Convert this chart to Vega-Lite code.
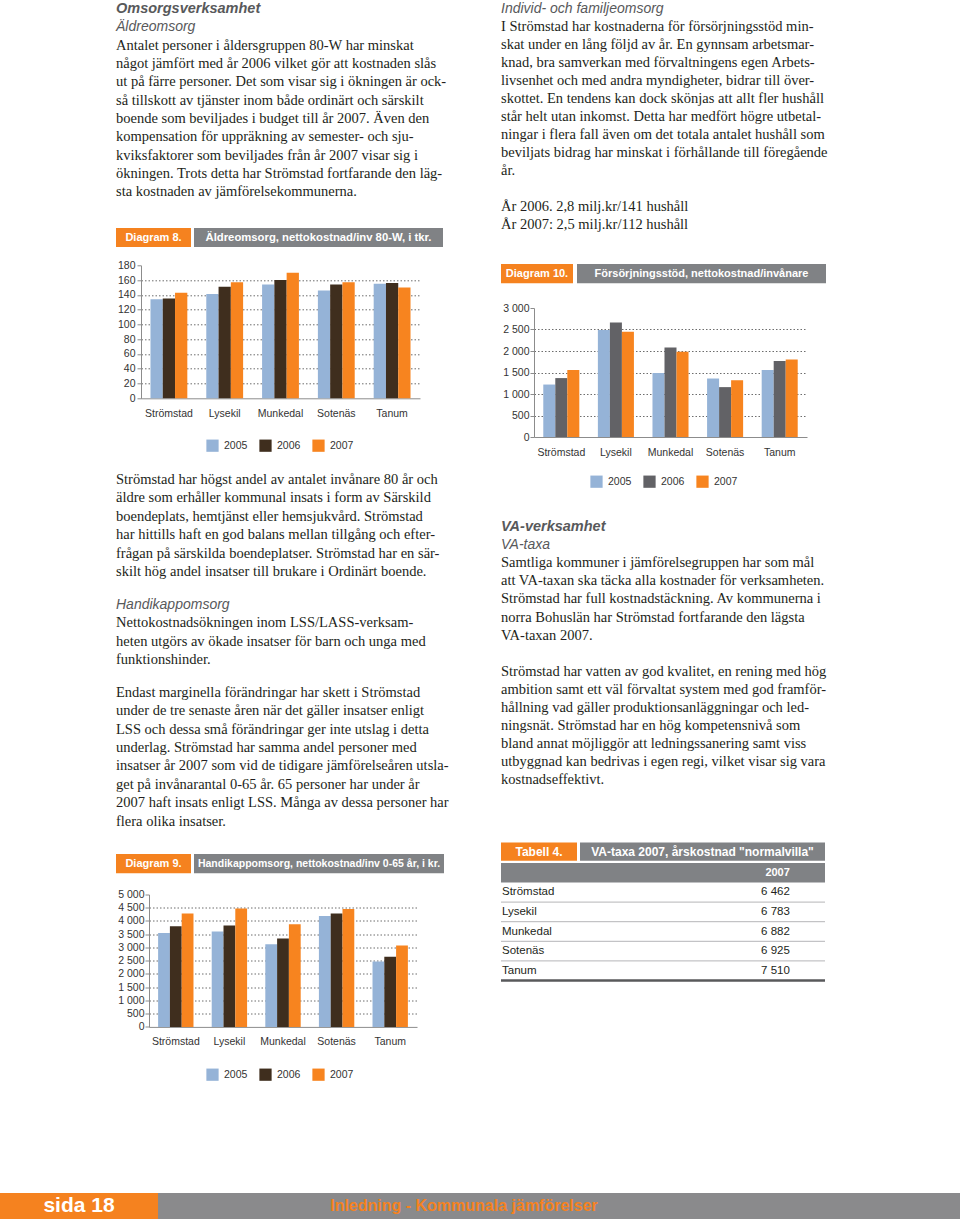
{
  "$schema": "https://vega.github.io/schema/vega-lite/v6.json",
  "background": "white",
  "padding": 0,
  "config": {
    "view": {"stroke": null},
    "locale": {"number": {"decimal": ",", "thousands": "\u00a0", "grouping": [3], "currency": ["", " kr"]}},
    "axis": {"labelFont": "Liberation Sans", "labelFontSize": 10.5, "labelColor": "#333333", "domainColor": "#8c8c8c", "tickColor": "#8c8c8c", "title": null},
    "axisX": {"labelAngle": 0, "ticks": false, "labelPadding": 10},
    "axisY": {"tickSize": 4, "labelPadding": 2, "grid": true, "gridDash": [1.5, 2], "gridColor": "#6d6d6d"},
    "legend": {"orient": "bottom", "direction": "horizontal", "title": null, "symbolType": "square", "symbolSize": 150, "symbolStrokeWidth": 0, "labelFont": "Liberation Sans", "labelFontSize": 10.5, "labelColor": "#333333", "columnPadding": 11, "labelOffset": 5, "offset": 20, "layout": {"bottom": {"anchor": "middle"}}}
  },
  "spacing": 112,
  "vconcat": [
    {
      "spacing": 40,
      "resolve": {"scale": {"x": "independent", "y": "independent", "color": "independent", "xOffset": "independent"}},
      "hconcat": [
        {"width": 76, "height": 10, "data": {"values": []}, "mark": "text", "encoding": {}},
        {
          "spacing": 0,
          "resolve": {"scale": {"x": "independent", "y": "independent", "color": "independent", "xOffset": "independent"}},
          "vconcat": [
            {
              "width": 343, "height": 227.7,
              "data": {"values": [
                {"n": 1, "k": "h1", "t": "Omsorgsverksamhet"},
                {"n": 2, "k": "h2", "t": "Äldreomsorg"},
                {"n": 3, "k": "b", "t": "Antalet personer i åldersgruppen 80-W har minskat"},
                {"n": 4, "k": "b", "t": "något jämfört med år 2006 vilket gör att kostnaden slås"},
                {"n": 5, "k": "b", "t": "ut på färre personer. Det som visar sig i ökningen är ock-"},
                {"n": 6, "k": "b", "t": "så tillskott av tjänster inom både ordinärt och särskilt"},
                {"n": 7, "k": "b", "t": "boende som beviljades i budget till år 2007. Även den"},
                {"n": 8, "k": "b", "t": "kompensation för uppräkning av semester- och sju-"},
                {"n": 9, "k": "b", "t": "kviksfaktorer som beviljades från år 2007 visar sig i"},
                {"n": 10, "k": "b", "t": "ökningen. Trots detta har Strömstad fortfarande den läg-"},
                {"n": 11, "k": "b", "t": "sta kostnaden av jämförelsekommunerna."}
              ]},
              "encoding": {
                "y": {"field": "n", "type": "ordinal", "axis": null, "scale": {"type": "band", "paddingInner": 0, "paddingOuter": 0.7213, "align": 0}},
                "x": {"datum": 0, "type": "quantitative", "axis": null, "scale": {"domain": [0, 1]}},
                "text": {"field": "t", "type": "nominal"}
              },
              "layer": [
                {"transform": [{"filter": "datum.k == 'h1'"}], "mark": {"type": "text", "align": "left", "font": "Liberation Sans", "fontSize": 14.5, "fontWeight": "bold", "fontStyle": "italic", "color": "#58595b"}},
                {"transform": [{"filter": "datum.k == 'h2'"}], "mark": {"type": "text", "align": "left", "font": "Liberation Sans", "fontSize": 14, "fontStyle": "italic", "color": "#58595b"}},
                {"transform": [{"filter": "datum.k == 'b'"}], "mark": {"type": "text", "align": "left", "font": "Liberation Serif", "fontSize": 14.5, "color": "#231f20"}}
              ]
            },
            {
              "spacing": 13.3,
              "vconcat": [
                {
                  "spacing": 3,
                  "hconcat": [
                    {"width": 75, "height": 19, "view": {"fill": "#f5821f", "stroke": null}, "data": {"values": [{"t": "Diagram 8."}]}, "mark": {"type": "text", "color": "#ffffff", "font": "Liberation Sans", "fontWeight": "bold", "fontSize": 11}, "encoding": {"text": {"field": "t", "type": "nominal"}}},
                    {"width": 249, "height": 19, "view": {"fill": "#808285", "stroke": null}, "data": {"values": [{"t": "Äldreomsorg, nettokostnad/inv  80-W, i tkr."}]}, "mark": {"type": "text", "color": "#ffffff", "font": "Liberation Sans", "fontWeight": "bold", "fontSize": 11.3}, "encoding": {"text": {"field": "t", "type": "nominal"}}}
                  ]
                },
                {
                  "spacing": 0,
                  "hconcat": [
                    {"width": 1, "height": 10, "data": {"values": []}, "mark": "text", "encoding": {}},
                    {
                      "width": 279, "height": 133,
                      "data": {"values": [
                        {"kommun": "Strömstad", "year": "2005", "value": 134}, {"kommun": "Strömstad", "year": "2006", "value": 135}, {"kommun": "Strömstad", "year": "2007", "value": 143},
                        {"kommun": "Lysekil", "year": "2005", "value": 141}, {"kommun": "Lysekil", "year": "2006", "value": 151}, {"kommun": "Lysekil", "year": "2007", "value": 157},
                        {"kommun": "Munkedal", "year": "2005", "value": 154}, {"kommun": "Munkedal", "year": "2006", "value": 160}, {"kommun": "Munkedal", "year": "2007", "value": 170},
                        {"kommun": "Sotenäs", "year": "2005", "value": 146}, {"kommun": "Sotenäs", "year": "2006", "value": 154}, {"kommun": "Sotenäs", "year": "2007", "value": 157},
                        {"kommun": "Tanum", "year": "2005", "value": 155}, {"kommun": "Tanum", "year": "2006", "value": 156}, {"kommun": "Tanum", "year": "2007", "value": 150}
                      ]},
                      "mark": {"type": "bar"},
                      "encoding": {
                        "x": {"field": "kommun", "type": "nominal", "sort": null, "scale": {"paddingInner": 0.34, "paddingOuter": 0.17}},
                        "xOffset": {"field": "year", "type": "nominal"},
                        "y": {"field": "value", "type": "quantitative", "scale": {"domain": [0, 180], "nice": false}, "axis": {"values": [0, 20, 40, 60, 80, 100, 120, 140, 160, 180], "gridOpacity": {"condition": {"test": "datum.value == 0 || datum.value == 180", "value": 0}, "value": 1}}},
                        "color": {"field": "year", "type": "nominal", "scale": {"domain": ["2005", "2006", "2007"], "range": ["#95b3d7", "#3f2e1e", "#f7841f"]}}
                      }
                    }
                  ]
                }
              ]
            },
            {
              "spacing": 13.8,
              "vconcat": [
                {
                  "width": 343, "height": 129.2,
                  "data": {"values": [
                    {"n": 1, "k": "b", "t": "Strömstad har högst andel av antalet invånare 80 år och"},
                    {"n": 2, "k": "b", "t": "äldre som erhåller kommunal insats i form av Särskild"},
                    {"n": 3, "k": "b", "t": "boendeplats, hemtjänst eller hemsjukvård. Strömstad"},
                    {"n": 4, "k": "b", "t": "har hittills haft en god balans mellan tillgång och efter-"},
                    {"n": 5, "k": "b", "t": "frågan på särskilda boendeplatser. Strömstad har en sär-"},
                    {"n": 6, "k": "b", "t": "skilt hög andel insatser till brukare i Ordinärt boende."}
                  ]},
                  "encoding": {
                    "y": {"field": "n", "type": "ordinal", "axis": null, "scale": {"type": "band", "paddingInner": 0, "paddingOuter": 0.5109, "align": 1}},
                    "x": {"datum": 0, "type": "quantitative", "axis": null, "scale": {"domain": [0, 1]}},
                    "text": {"field": "t", "type": "nominal"}
                  },
                  "mark": {"type": "text", "align": "left", "font": "Liberation Serif", "fontSize": 14.5, "color": "#231f20"}
                },
                {
                  "width": 343, "height": 73.6,
                  "data": {"values": [
                    {"n": 1, "k": "h2", "t": "Handikappomsorg"},
                    {"n": 2, "k": "b", "t": "Nettokostnadsökningen inom LSS/LASS-verksam-"},
                    {"n": 3, "k": "b", "t": "heten utgörs av ökade insatser för barn och unga med"},
                    {"n": 4, "k": "b", "t": "funktionshinder."}
                  ]},
                  "encoding": {
                    "y": {"field": "n", "type": "ordinal", "axis": null, "scale": {"type": "band", "paddingInner": 0, "paddingOuter": 0}},
                    "x": {"datum": 0, "type": "quantitative", "axis": null, "scale": {"domain": [0, 1]}},
                    "text": {"field": "t", "type": "nominal"}
                  },
                  "layer": [
                    {"transform": [{"filter": "datum.k == 'h2'"}], "mark": {"type": "text", "align": "left", "font": "Liberation Sans", "fontSize": 14, "fontStyle": "italic", "color": "#58595b"}},
                    {"transform": [{"filter": "datum.k == 'b'"}], "mark": {"type": "text", "align": "left", "font": "Liberation Serif", "fontSize": 14.5, "color": "#231f20"}}
                  ]
                },
                {
                  "width": 343, "height": 169.5,
                  "data": {"values": [
                    {"n": 1, "k": "b", "t": "Endast marginella förändringar har skett i Strömstad"},
                    {"n": 2, "k": "b", "t": "under de tre senaste åren när det gäller insatser enligt"},
                    {"n": 3, "k": "b", "t": "LSS och dessa små förändringar ger inte utslag i detta"},
                    {"n": 4, "k": "b", "t": "underlag. Strömstad har samma andel personer med"},
                    {"n": 5, "k": "b", "t": "insatser år 2007 som vid de tidigare jämförelseåren utsla-"},
                    {"n": 6, "k": "b", "t": "get på invånarantal 0-65 år. 65 personer har under år"},
                    {"n": 7, "k": "b", "t": "2007 haft insats enligt LSS. Många av dessa personer har"},
                    {"n": 8, "k": "b", "t": "flera olika insatser."}
                  ]},
                  "encoding": {
                    "y": {"field": "n", "type": "ordinal", "axis": null, "scale": {"type": "band", "paddingInner": 0, "paddingOuter": 0.606, "align": 0}},
                    "x": {"datum": 0, "type": "quantitative", "axis": null, "scale": {"domain": [0, 1]}},
                    "text": {"field": "t", "type": "nominal"}
                  },
                  "mark": {"type": "text", "align": "left", "font": "Liberation Serif", "fontSize": 14.5, "color": "#231f20"}
                }
              ]
            },
            {
              "spacing": 15.5,
              "vconcat": [
                {
                  "spacing": 3,
                  "hconcat": [
                    {"width": 75, "height": 19.3, "view": {"fill": "#f5821f", "stroke": null}, "data": {"values": [{"t": "Diagram 9."}]}, "mark": {"type": "text", "color": "#ffffff", "font": "Liberation Sans", "fontWeight": "bold", "fontSize": 11}, "encoding": {"text": {"field": "t", "type": "nominal"}}},
                    {"width": 250, "height": 19.3, "view": {"fill": "#808285", "stroke": null}, "data": {"values": [{"t": "Handikappomsorg, nettokostnad/inv 0-65 år, i kr."}]}, "mark": {"type": "text", "color": "#ffffff", "font": "Liberation Sans", "fontWeight": "bold", "fontSize": 10.5}, "encoding": {"text": {"field": "t", "type": "nominal"}}}
                  ]
                },
                {
                  "spacing": 0,
                  "hconcat": [
                    {"width": 1, "height": 10, "data": {"values": []}, "mark": "text", "encoding": {}},
                    {
                      "width": 268, "height": 132.4,
                      "data": {"values": [
                        {"kommun": "Strömstad", "year": "2005", "value": 3550}, {"kommun": "Strömstad", "year": "2006", "value": 3800}, {"kommun": "Strömstad", "year": "2007", "value": 4280},
                        {"kommun": "Lysekil", "year": "2005", "value": 3600}, {"kommun": "Lysekil", "year": "2006", "value": 3830}, {"kommun": "Lysekil", "year": "2007", "value": 4470},
                        {"kommun": "Munkedal", "year": "2005", "value": 3120}, {"kommun": "Munkedal", "year": "2006", "value": 3340}, {"kommun": "Munkedal", "year": "2007", "value": 3880},
                        {"kommun": "Sotenäs", "year": "2005", "value": 4190}, {"kommun": "Sotenäs", "year": "2006", "value": 4280}, {"kommun": "Sotenäs", "year": "2007", "value": 4450},
                        {"kommun": "Tanum", "year": "2005", "value": 2470}, {"kommun": "Tanum", "year": "2006", "value": 2650}, {"kommun": "Tanum", "year": "2007", "value": 3070}
                      ]},
                      "mark": {"type": "bar"},
                      "encoding": {
                        "x": {"field": "kommun", "type": "nominal", "sort": null, "scale": {"paddingInner": 0.34, "paddingOuter": 0.17}},
                        "xOffset": {"field": "year", "type": "nominal"},
                        "y": {"field": "value", "type": "quantitative", "scale": {"domain": [0, 5000], "nice": false}, "axis": {"format": ",d", "labelPadding": 1, "values": [0, 500, 1000, 1500, 2000, 2500, 3000, 3500, 4000, 4500, 5000], "gridOpacity": {"condition": {"test": "datum.value == 0 || datum.value == 5000", "value": 0}, "value": 1}}},
                        "color": {"field": "year", "type": "nominal", "scale": {"domain": ["2005", "2006", "2007"], "range": ["#95b3d7", "#3f2e1e", "#f7841f"]}}
                      }
                    }
                  ]
                }
              ]
            }
          ]
        },
        {
          "spacing": 0,
          "resolve": {"scale": {"x": "independent", "y": "independent", "color": "independent", "xOffset": "independent"}},
          "vconcat": [
            {
              "width": 345, "height": 264,
              "data": {"values": [
                {"n": 1, "k": "h2", "t": "Individ- och familjeomsorg"},
                {"n": 2, "k": "b", "t": "I Strömstad har kostnaderna för försörjningsstöd min-"},
                {"n": 3, "k": "b", "t": "skat under en lång följd av år. En gynnsam arbetsmar-"},
                {"n": 4, "k": "b", "t": "knad, bra samverkan med förvaltningens egen Arbets-"},
                {"n": 5, "k": "b", "t": "livsenhet och med andra myndigheter, bidrar till över-"},
                {"n": 6, "k": "b", "t": "skottet. En tendens kan dock skönjas att allt fler hushåll"},
                {"n": 7, "k": "b", "t": "står helt utan inkomst. Detta har medfört högre utbetal-"},
                {"n": 8, "k": "b", "t": "ningar i flera fall även om det totala antalet hushåll som"},
                {"n": 9, "k": "b", "t": "beviljats bidrag har minskat i förhållande till föregående"},
                {"n": 10, "k": "b", "t": "år."},
                {"n": 11, "k": "b", "t": ""},
                {"n": 12, "k": "b", "t": "År 2006. 2,8 milj.kr/141 hushåll"},
                {"n": 13, "k": "b", "t": "År 2007: 2,5 milj.kr/112 hushåll"}
              ]},
              "encoding": {
                "y": {"field": "n", "type": "ordinal", "axis": null, "scale": {"type": "band", "paddingInner": 0, "paddingOuter": 0.8333, "align": 0}},
                "x": {"datum": 0, "type": "quantitative", "axis": null, "scale": {"domain": [0, 1]}},
                "text": {"field": "t", "type": "nominal"}
              },
              "layer": [
                {"transform": [{"filter": "datum.k == 'h2'"}], "mark": {"type": "text", "align": "left", "font": "Liberation Sans", "fontSize": 14, "fontStyle": "italic", "color": "#58595b"}},
                {"transform": [{"filter": "datum.k == 'b'"}], "mark": {"type": "text", "align": "left", "font": "Liberation Serif", "fontSize": 14.5, "color": "#231f20"}}
              ]
            },
            {
              "spacing": 19,
              "vconcat": [
                {
                  "spacing": 4,
                  "hconcat": [
                    {"width": 72, "height": 19.3, "view": {"fill": "#f5821f", "stroke": null}, "data": {"values": [{"t": "Diagram 10."}]}, "mark": {"type": "text", "color": "#ffffff", "font": "Liberation Sans", "fontWeight": "bold", "fontSize": 11}, "encoding": {"text": {"field": "t", "type": "nominal"}}},
                    {"width": 249, "height": 19.3, "view": {"fill": "#808285", "stroke": null}, "data": {"values": [{"t": "Försörjningsstöd, nettokostnad/invånare"}]}, "mark": {"type": "text", "color": "#ffffff", "font": "Liberation Sans", "fontWeight": "bold", "fontSize": 11}, "encoding": {"text": {"field": "t", "type": "nominal"}}}
                  ]
                },
                {
                  "spacing": 0,
                  "hconcat": [
                    {"width": 1, "height": 10, "data": {"values": []}, "mark": "text", "encoding": {}},
                    {
                      "width": 273, "height": 129,
                      "data": {"values": [
                        {"kommun": "Strömstad", "year": "2005", "value": 1220}, {"kommun": "Strömstad", "year": "2006", "value": 1370}, {"kommun": "Strömstad", "year": "2007", "value": 1560},
                        {"kommun": "Lysekil", "year": "2005", "value": 2490}, {"kommun": "Lysekil", "year": "2006", "value": 2660}, {"kommun": "Lysekil", "year": "2007", "value": 2450},
                        {"kommun": "Munkedal", "year": "2005", "value": 1490}, {"kommun": "Munkedal", "year": "2006", "value": 2080}, {"kommun": "Munkedal", "year": "2007", "value": 1980},
                        {"kommun": "Sotenäs", "year": "2005", "value": 1360}, {"kommun": "Sotenäs", "year": "2006", "value": 1160}, {"kommun": "Sotenäs", "year": "2007", "value": 1320},
                        {"kommun": "Tanum", "year": "2005", "value": 1560}, {"kommun": "Tanum", "year": "2006", "value": 1770}, {"kommun": "Tanum", "year": "2007", "value": 1800}
                      ]},
                      "mark": {"type": "bar"},
                      "encoding": {
                        "x": {"field": "kommun", "type": "nominal", "sort": null, "scale": {"paddingInner": 0.34, "paddingOuter": 0.17}},
                        "xOffset": {"field": "year", "type": "nominal"},
                        "y": {"field": "value", "type": "quantitative", "scale": {"domain": [0, 3000], "nice": false}, "axis": {"format": ",d", "labelPadding": 1, "values": [0, 500, 1000, 1500, 2000, 2500, 3000], "gridOpacity": {"condition": {"test": "datum.value == 0 || datum.value == 3000", "value": 0}, "value": 1}}},
                        "color": {"field": "year", "type": "nominal", "scale": {"domain": ["2005", "2006", "2007"], "range": ["#95b3d7", "#626266", "#f7841f"]}, "legend": {"offset": 17, "encode": {"symbols": {"update": {"fill": {"signal": "datum.value == '2005' ? '#95b3d7' : datum.value == '2006' ? '#3f2e1e' : '#f7841f'"}}}}}}
                      }
                    }
                  ]
                }
              ]
            },
            {
              "spacing": 52.5,
              "vconcat": [
                {
                  "width": 345, "height": 301.5,
                  "data": {"values": [
                    {"n": 1, "k": "h1", "t": "VA-verksamhet"},
                    {"n": 2, "k": "h2", "t": "VA-taxa"},
                    {"n": 3, "k": "b", "t": "Samtliga kommuner i jämförelsegruppen har som mål"},
                    {"n": 4, "k": "b", "t": "att VA-taxan ska täcka alla kostnader för verksamheten."},
                    {"n": 5, "k": "b", "t": "Strömstad har full kostnadstäckning. Av kommunerna i"},
                    {"n": 6, "k": "b", "t": "norra Bohuslän har Strömstad fortfarande den lägsta"},
                    {"n": 7, "k": "b", "t": "VA-taxan 2007."},
                    {"n": 8, "k": "b", "t": ""},
                    {"n": 9, "k": "b", "t": "Strömstad har vatten av god kvalitet, en rening med hög"},
                    {"n": 10, "k": "b", "t": "ambition samt ett väl förvaltat system med god framför-"},
                    {"n": 11, "k": "b", "t": "hållning vad gäller produktionsanläggningar och led-"},
                    {"n": 12, "k": "b", "t": "ningsnät. Strömstad har en hög kompetensnivå som"},
                    {"n": 13, "k": "b", "t": "bland annat möjliggör att ledningssanering samt viss"},
                    {"n": 14, "k": "b", "t": "utbyggnad kan bedrivas i egen regi, vilket visar sig vara"},
                    {"n": 15, "k": "b", "t": "kostnadseffektivt."}
                  ]},
                  "encoding": {
                    "y": {"field": "n", "type": "ordinal", "axis": null, "scale": {"type": "band", "paddingInner": 0, "paddingOuter": 0.8287, "align": 1}},
                    "x": {"datum": 0, "type": "quantitative", "axis": null, "scale": {"domain": [0, 1]}},
                    "text": {"field": "t", "type": "nominal"}
                  },
                  "layer": [
                    {"transform": [{"filter": "datum.k == 'h1'"}], "mark": {"type": "text", "align": "left", "font": "Liberation Sans", "fontSize": 14.5, "fontWeight": "bold", "fontStyle": "italic", "color": "#58595b"}},
                    {"transform": [{"filter": "datum.k == 'h2'"}], "mark": {"type": "text", "align": "left", "font": "Liberation Sans", "fontSize": 14, "fontStyle": "italic", "color": "#58595b"}},
                    {"transform": [{"filter": "datum.k == 'b'"}], "mark": {"type": "text", "align": "left", "font": "Liberation Serif", "fontSize": 14.5, "color": "#231f20"}}
                  ]
                },
                {
                  "spacing": 1.4,
                  "vconcat": [
                    {
                      "spacing": 3,
                      "hconcat": [
                        {"width": 76, "height": 18.3, "view": {"fill": "#f5821f", "stroke": null}, "data": {"values": [{"t": "Tabell 4."}]}, "mark": {"type": "text", "color": "#ffffff", "font": "Liberation Sans", "fontWeight": "bold", "fontSize": 12}, "encoding": {"text": {"field": "t", "type": "nominal"}}},
                        {"width": 245, "height": 18.3, "view": {"fill": "#808285", "stroke": null}, "data": {"values": [{"t": "VA-taxa 2007, årskostnad \"normalvilla\""}]}, "mark": {"type": "text", "color": "#ffffff", "font": "Liberation Sans", "fontWeight": "bold", "fontSize": 12}, "encoding": {"text": {"field": "t", "type": "nominal"}}}
                      ]
                    },
                    {
                      "width": 324, "height": 117.6,
                      "data": {"values": [
                        {"r": "2007", "kind": "head"},
                        {"r": "Strömstad", "kind": "row", "v": 6462},
                        {"r": "Lysekil", "kind": "row", "v": 6783},
                        {"r": "Munkedal", "kind": "row", "v": 6882},
                        {"r": "Sotenäs", "kind": "row", "v": 6925},
                        {"r": "Tanum", "kind": "last", "v": 7510}
                      ]},
                      "encoding": {
                        "y": {"field": "r", "type": "nominal", "sort": null, "axis": null, "scale": {"type": "band", "paddingInner": 0, "paddingOuter": 0}}
                      },
                      "layer": [
                        {"transform": [{"filter": "datum.kind == 'head'"}], "mark": {"type": "bar", "color": "#808285"}},
                        {"transform": [{"filter": "datum.kind == 'head'"}], "mark": {"type": "text", "align": "right", "color": "#ffffff", "font": "Liberation Sans", "fontWeight": "bold", "fontSize": 11},
                         "encoding": {"text": {"field": "r", "type": "nominal"}, "x": {"datum": "value", "type": "nominal", "axis": null, "scale": {"type": "point", "domain": ["name", "value"], "padding": 0.0608, "align": 0}}}},
                        {"transform": [{"filter": "datum.kind != 'head'"}], "mark": {"type": "text", "align": "left", "color": "#231f20", "font": "Liberation Sans", "fontSize": 11.5, "dx": 1},
                         "encoding": {"text": {"field": "r", "type": "nominal"}, "x": {"datum": "name", "type": "nominal", "axis": null}}},
                        {"transform": [{"filter": "datum.kind != 'head'"}], "mark": {"type": "text", "align": "right", "color": "#231f20", "font": "Liberation Sans", "fontSize": 11.5},
                         "encoding": {"text": {"field": "v", "type": "quantitative", "format": ",d"}, "x": {"datum": "value", "type": "nominal", "axis": null}}},
                        {"transform": [{"filter": "datum.kind == 'row'"}], "mark": {"type": "rule", "color": "#b5b5b8", "strokeWidth": 1},
                         "encoding": {"y": {"field": "r", "type": "nominal", "sort": null, "bandPosition": 1}}},
                        {"transform": [{"filter": "datum.kind == 'last'"}], "mark": {"type": "rule", "color": "#58595b", "strokeWidth": 2.5},
                         "encoding": {"y": {"field": "r", "type": "nominal", "sort": null, "bandPosition": 1}}}
                      ]
                    }
                  ]
                }
              ]
            }
          ]
        }
      ]
    },
    {
      "spacing": 0,
      "hconcat": [
        {"width": 158, "height": 26, "view": {"fill": "#f5821f", "stroke": null}, "data": {"values": [{"t": "sida 18"}]}, "mark": {"type": "text", "color": "#ffffff", "font": "Liberation Sans", "fontWeight": "bold", "fontSize": 21}, "encoding": {"text": {"field": "t", "type": "nominal"}}},
        {"width": 612, "height": 26, "view": {"fill": "#8a8a8c", "stroke": null}, "data": {"values": [{"t": "Inledning - Kommunala jämförelser"}]}, "mark": {"type": "text", "color": "#f5821f", "font": "Liberation Sans", "fontWeight": "bold", "fontSize": 16}, "encoding": {"text": {"field": "t", "type": "nominal"}}},
        {"width": 190, "height": 26, "view": {"fill": "#8a8a8c", "stroke": null}, "data": {"values": []}, "mark": "text", "encoding": {}}
      ]
    }
  ]
}
